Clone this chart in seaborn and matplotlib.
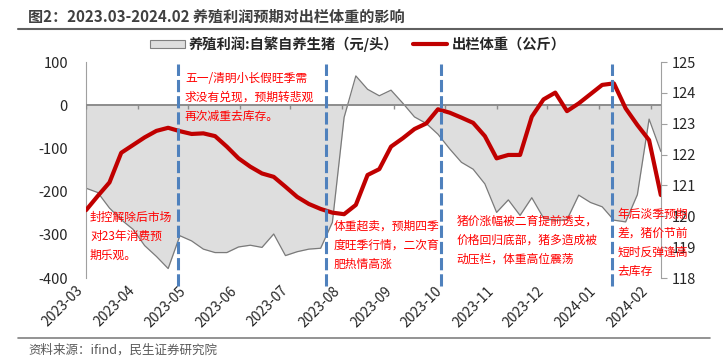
import pandas as pd
import seaborn as sns
import matplotlib.pyplot as plt
import matplotlib.patches as mpatches
from matplotlib.lines import Line2D

# weekly data, 2023-03 .. 2024-02
week_start = "2023-03-01"
profit = [-192, -202, -238, -265, -287, -325, -350, -378, -302, -314,
          -333, -341, -341, -328, -324, -329, -298, -348, -339, -333,
          -331, -271, -28, 68, 37, 22, 35, 5, -27, -42,
          -67, -101, -132, -148, -182, -248, -219, -255, -214, -261,
          -267, -265, -208, -225, -235, -266, -270, -207, -32, -107]
weight = [120.20, 120.66, 121.10, 122.06, 122.31, 122.56, 122.77, 122.87, 122.76, 122.67,
          122.69, 122.60, 122.26, 121.88, 121.61, 121.39, 121.28, 120.96, 120.63, 120.40,
          120.24, 120.12, 120.07, 120.37, 121.34, 121.53, 122.26, 122.53, 122.83, 123.01,
          123.47, 123.36, 123.20, 123.03, 122.60, 121.88, 121.99, 121.99, 123.23, 123.79,
          124.01, 123.41, 123.66, 123.96, 124.26, 124.31, 123.50, 122.96, 122.47, 120.69]
event_dates = ["2023-04-25", "2023-07-22", "2023-09-29", "2024-01-09"]
notes = ["封控解除后市场\n对23年消费预\n期乐观。",
         "五一/清明小长假旺季需\n求没有兑现，预期转悲观\n再次减重去库存。",
         "体重超卖，预期四季\n度旺季行情，二次育\n肥热情高涨",
         "猪价涨幅被二育提前透支，\n价格回归底部，猪多造成被\n动压栏，体重高位震荡",
         "年后淡季预期\n差，猪价节前\n短时反弹逢高\n去库存"]
note_pos = [(0.007, 0.31), (0.172, 0.955), (0.43, 0.27), (0.645, 0.292), (0.925, 0.325)]

title = "图2：2023.03-2024.02 养殖利润预期对出栏体重的影响"
profit_label = "养殖利润:自繁自养生猪（元/头）"
weight_label = "出栏体重（公斤）"
source = "资料来源：ifind，民生证券研究院"

df = pd.DataFrame({"date": pd.date_range(week_start, periods=len(profit), freq="7D"),
                   "profit": profit, "weight": weight})
months = pd.date_range("2023-03-01", "2024-02-01", freq="MS")

sns.set_style("white")
plt.rcParams["font.family"] = ["Noto Sans CJK SC", "DejaVu Sans"]
plt.rcParams["axes.unicode_minus"] = False

fig = plt.figure(figsize=(7.23, 3.63), dpi=100)
ax = fig.add_axes([0.119, 0.234, 0.795, 0.595])
ax2 = ax.twinx()

grey = "#8c8c8c"
fill_c = "#dedede"
red = "#c00000"

# profit area
ax.fill_between(df["date"], df["profit"], 0, color=fill_c, lw=0, zorder=1)
sns.lineplot(data=df, x="date", y="profit", ax=ax, color="#7a7a7a", lw=0.9, legend=False, zorder=2)
ax.axhline(0, color=grey, lw=1.4, zorder=3)
ax.vlines(months, -9, 0, color=grey, lw=1, zorder=3)

# weight line
sns.lineplot(data=df, x="date", y="weight", ax=ax2, color=red, lw=3, legend=False, zorder=4)

for d in pd.to_datetime(event_dates):
    ax2.axvline(d, ymin=-0.035, ymax=0.99, color="#4f81bd", lw=2.2,
                ls=(0, (4, 1.3)), clip_on=False, zorder=5)

for txt, (xf, yf) in zip(notes, note_pos):
    ax2.text(xf, yf, txt, transform=ax.transAxes, color="#ff0000", fontsize=8.5,
             va="top", ha="left", linespacing=1.6, zorder=6)

ax.set_xlim(df["date"].iloc[0], df["date"].iloc[-1])
ax.set_ylim(-400, 100)
ax.set_yticks(range(-400, 101, 100))
ax2.set_ylim(118, 125)
ax2.set_yticks(range(118, 126))
ax.set_xticks(months)
ax.set_xticklabels([m.strftime("%Y-%m") for m in months], rotation=45, ha="right")
ax.set_xlabel("")
ax.set_ylabel("")
ax2.set_ylabel("")

for a in (ax, ax2):
    for s in a.spines.values():
        s.set_visible(False)
ax.spines["left"].set_visible(True)
ax.spines["left"].set_color("#a0a0a0")
ax2.spines["right"].set_visible(True)
ax2.spines["right"].set_color("#a0a0a0")
ax.tick_params(axis="x", length=0, pad=4, labelsize=10)
ax.tick_params(axis="y", length=0, pad=13, labelsize=10.5)
ax2.tick_params(axis="y", length=4, color="#a0a0a0", direction="out", pad=4, labelsize=10.5)

handles = [mpatches.Patch(facecolor=fill_c, edgecolor="#808080", lw=0.8),
           Line2D([], [], color=red, lw=3)]
fig.legend(handles, [profit_label, weight_label], ncol=2, frameon=False,
           loc="center", bbox_to_anchor=(0.495, 1 - 44 / 363),
           prop={"size": 10.3, "weight": "bold"}, handlelength=2.4,
           handleheight=0.5, columnspacing=1.0, handletextpad=0.3)

fig.text(28 / 723, 1 - 17 / 363, title, fontsize=10.9, fontweight="bold",
         color="#404040", va="center")
fig.add_artist(Line2D([18 / 723, 1], [1 - 29 / 363] * 2, color="#606060", lw=1.5))
fig.add_artist(Line2D([18 / 723, 710 / 723], [1 - 338 / 363] * 2, color="#808080", lw=1.2))
fig.text(28 / 723, 1 - 350 / 363, source, fontsize=9, color="#595959", va="center")

fig.savefig("out.png", dpi=100)
